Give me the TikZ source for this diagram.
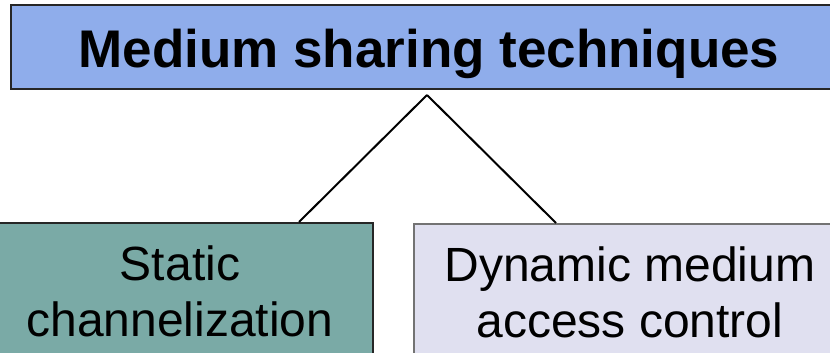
\documentclass[tikz,border=0pt]{standalone}
\usepackage{fontspec}
\setmainfont{Liberation Sans}
\definecolor{headblue}{RGB}{143,173,235}
\definecolor{statteal}{RGB}{122,170,166}
\definecolor{dynlav}{RGB}{224,224,240}
\tikzset{%
	headbox/.style	= {draw=black!85, line width=1.5pt, fill=headblue, rectangle, minimum height = 84pt, minimum width = 836pt,
		font=\fontsize{53}{60}\selectfont\bfseries, text height = 48pt, text depth = 6pt}, % Title
	kindbox/.style	= {line width=1.5pt, rectangle, minimum height = 137pt, inner sep = 0pt, align = center,
		font=\fontsize{48}{56}\selectfont}, % Technique
	branch/.style	= {line width=2pt} % Tree line
}

\begin{document}
\begin{tikzpicture}[x=1pt, y=-1pt]
	\useasboundingbox (0, 0) rectangle (830, 353);
	\draw % Drawing the tree
	node at (429, 47) [headbox] (medium) {Medium sharing techniques}
	node at (180, 222) [kindbox, anchor = north, draw=black!85, fill=statteal, minimum width = 386pt] (static) {Static\\channelization}
	node at (630, 223) [kindbox, anchor = north, draw=black!55, fill=dynlav, minimum width = 432pt] (dynamic) {Dynamic medium\\access control}
	;
	\coordinate (apex) at (427, 95);

	% Drawing the branches
	\draw[branch] (apex) -- ([xshift=119pt]static.north);
	\draw[branch] (apex) -- ([xshift=-74pt]dynamic.north);
\end{tikzpicture}
\end{document}
